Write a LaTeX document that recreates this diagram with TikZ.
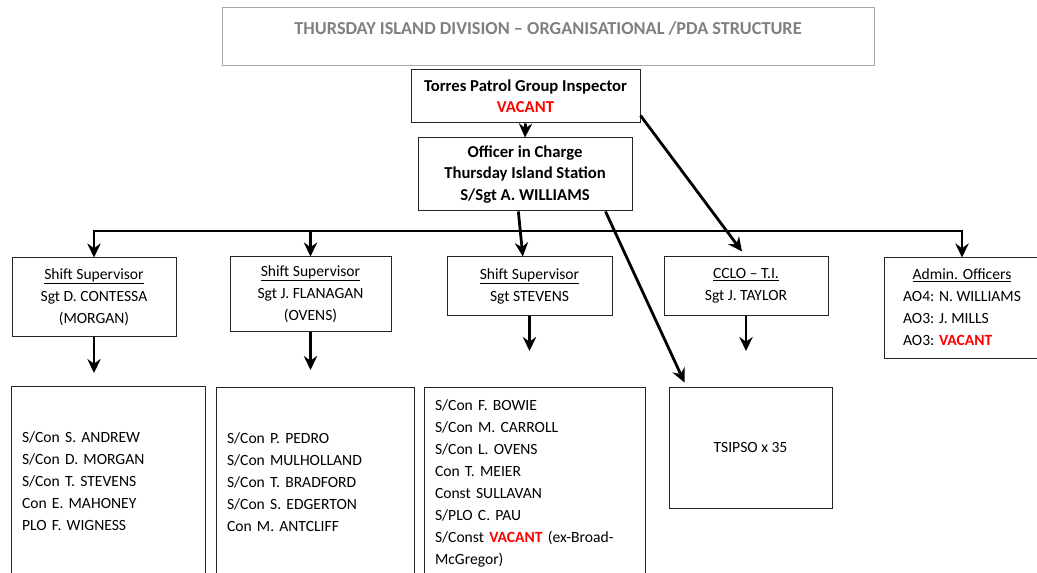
\documentclass[tikz,border=0pt]{standalone}
\usepackage{fontspec}
\setmainfont{Carlito}
\usepackage{xcolor}
\usepackage{tikz}
\usetikzlibrary{arrows.meta,positioning,calc}
\definecolor{vacant}{HTML}{FF0000}
\definecolor{titlegray}{HTML}{808080}
\definecolor{framegray}{HTML}{A6A6A6}
\newcommand{\vac}{\textcolor{vacant}{\bfseries VACANT}}

\begin{document}
\begin{tikzpicture}[
  x=0.75pt, y=-0.75pt,
  font=\fontsize{11.7}{16.5}\selectfont,
  box/.style={draw=black!85, line width=0.75pt, align=center, inner sep=0pt},
  headbox/.style={box, font=\fontsize{12.5}{16}\selectfont\bfseries},
  listbox/.style={draw=black!85, line width=0.75pt, align=left, inner xsep=8.25pt, inner ysep=0pt},
  arr/.style={-{Stealth[length=10.5pt,width=10pt,inset=3.5pt]}, line width=2.1pt}
]
\useasboundingbox (0,0) rectangle (1037,573);
\clip (0,0) rectangle (1037,573);

% heading
\node[draw=framegray, line width=0.75pt, anchor=north, minimum width=489pt, inner ysep=0pt,
  text height=20.5pt, text depth=23pt, text=titlegray, font=\fontsize{13.7}{16.5}\selectfont\bfseries]
  (title) at (548,7) {THURSDAY ISLAND DIVISION – ORGANISATIONAL /PDA STRUCTURE};

% top of the chain
\node[headbox, minimum width=171.75pt, minimum height=39.75pt]
  (torres) at (525.5,96.5) {Torres Patrol Group Inspector\\\textcolor{vacant}{VACANT}};
\node[headbox, minimum width=160.5pt, minimum height=54.75pt]
  (oic) at (525,174.5) {Officer in Charge\\Thursday Island Station\\S/Sgt A. WILLIAMS};

% supervisors
\node[box, minimum width=123pt, minimum height=58.5pt] (ss1) at (94,297)
  {\underline{Shift Supervisor}\\Sgt D. CONTESSA\\(MORGAN)};
\node[box, minimum width=120.75pt, minimum height=55.5pt] (ss2) at (310.5,294)
  {\underline{Shift Supervisor}\\Sgt J. FLANAGAN\\(OVENS)};
\node[box, minimum width=123.75pt, minimum height=43.5pt] (ss3) at (529.5,286)
  {\underline{Shift Supervisor}\\Sgt STEVENS};
\node[box, minimum width=123pt, minimum height=43.5pt] (cclo) at (746,286)
  {\underline{CCLO – T.I.}\\Sgt J. TAYLOR};
\node[box, minimum width=117pt, minimum height=75pt] (admin) at (962,308)
  {\begin{tabular}{@{}l@{}}\multicolumn{1}{c}{\underline{Admin. Officers}}\\
   AO4: N. WILLIAMS\\AO3: J. MILLS\\AO3: \vac\end{tabular}};

% staff
\node[listbox, text width=129pt, minimum height=142.5pt] (crew1) at (108,481)
  {S/Con S. ANDREW\\S/Con D. MORGAN\\S/Con T. STEVENS\\Con E. MAHONEY\\PLO F. WIGNESS};
\node[listbox, text width=132pt, minimum height=142.5pt] (crew2) at (315,482)
  {S/Con P. PEDRO\\S/Con MULHOLLAND\\S/Con T. BRADFORD\\S/Con S. EDGERTON\\Con M. ANTCLIFF};
\node[listbox, text width=149.25pt, minimum height=144pt] (crew3) at (534.5,483)
  {S/Con F. BOWIE\\S/Con M. CARROLL\\S/Con L. OVENS\\Con T. MEIER\\Const SULLAVAN\\S/PLO C. PAU\\
   S/Const \vac{} (ex-Broad-\\McGregor)};
\node[box, minimum width=122.25pt, minimum height=90.75pt] (tsipso) at (750.5,447.5) {TSIPSO x 35};

% links
\coordinate (bus) at (525,231);
\coordinate (down1) at (94,373);
\coordinate (down2) at (310.5,370);
\coordinate (down3) at (529.5,351);
\coordinate (down4) at (746,351);

\draw[arr] (torres.south) -- (oic.north);
\draw[arr] (bus) -| (ss1.north);
\draw[arr] (bus) -| (ss2.north);
\draw[arr] (bus) -| (admin.north);
\draw[arr] ([xshift=-5pt]oic.south) -- ([xshift=-5pt]ss3.north);
\draw[arr] ($(oic.south east)+(-27,0)$) -- ($(tsipso.north west)+(16,-4)$);
\draw[arr] ($(torres.south east)+(0,-8)$) -- ($(cclo.north)+(-4,-5)$);
\draw[arr] (ss1.south) -- (down1);
\draw[arr] (ss2.south) -- (down2);
\draw[arr] (ss3.south) -- (down3);
\draw[arr] (cclo.south) -- (down4);
\end{tikzpicture}
\end{document}
